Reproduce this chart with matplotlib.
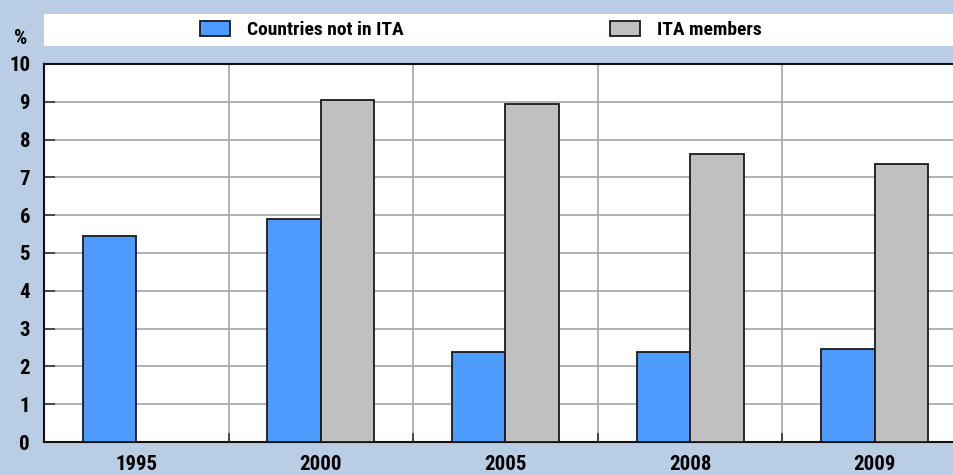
import matplotlib.pyplot as plt
import matplotlib.patches
import numpy as np

years = ["1995", "2000", "2005", "2008", "2009"]
not_ita = [5.45, 5.90, 2.38, 2.37, 2.47]
ita = [np.nan, 9.05, 8.93, 7.62, 7.35]
labels = ["Countries not in ITA", "ITA members"]

bg = "#b9cde4"
blue = "#4d9bff"
grey = "#c0c0c0"

plt.rcParams['font.family'] = ['Roboto Condensed', 'DejaVu Sans']
plt.rcParams['font.weight'] = 'bold'

fig = plt.figure(figsize=[9.54, 4.75], dpi=100, facecolor=bg)
ax = fig.add_axes([44/954, 33/475, 1 - 44/954, 378/475])

x = np.arange(len(years))
w = 0.29
b1 = ax.bar(x - w/2, not_ita, w, color=blue, edgecolor="#1a1a1a", lw=1.3, label=labels[0], zorder=3)
b2 = ax.bar(x + w/2, ita, w, color=grey, edgecolor="#1a1a1a", lw=1.3, label=labels[1], zorder=3)

ax.set_xlim(-0.5, 4.43)
ax.set_ylim(0, 10)
ax.set_yticks(range(0, 11))
ax.set_yticklabels([str(i) for i in range(0, 11)], fontsize=15, fontweight='bold')
ax.set_xticks(x)
ax.set_xticklabels(years, fontsize=15, fontweight='bold')
ax.tick_params(axis='x', length=0, pad=9)
ax.tick_params(axis='y', direction='in', length=8, width=1.2, color="#333333", pad=10)

# grid: horizontal lines and separators between years
ax.yaxis.grid(True, color="#a6a6a6", lw=1.2, zorder=0)
for b in np.arange(0.5, 4.5, 1.0):
  ax.axvline(b, color="#a6a6a6", lw=1.2, zorder=0)
  ax.plot([b, b], [0, 0.2], color="#333333", lw=1.2, zorder=4)

for s in ["left", "bottom", "top"]:
  ax.spines[s].set_color("#111111")
  ax.spines[s].set_linewidth(1.5)
ax.spines["right"].set_visible(False)

# legend band
fig.patches.append(matplotlib.patches.Rectangle((44/954, 1 - 46/475), 1 - 44/954, 32/475,
                                                 transform=fig.transFigure, facecolor="white",
                                                 edgecolor="none", zorder=0))
for handle, lab, x0 in [(b1, labels[0], 200), (b2, labels[1], 610)]:
  leg = fig.legend([handle], [lab], loc="center left", bbox_to_anchor=(x0/954, 1 - 30/475),
                   frameon=False, borderpad=0, borderaxespad=0, handlelength=1.55,
                   handleheight=0.83, handletextpad=0.85, prop={'weight': 'bold', 'size': 14})

fig.text(21/954, 1 - 38/475, "%", fontsize=15, fontweight='bold', ha="center", va="center")

fig.savefig("out.png", dpi=100, facecolor=bg)
